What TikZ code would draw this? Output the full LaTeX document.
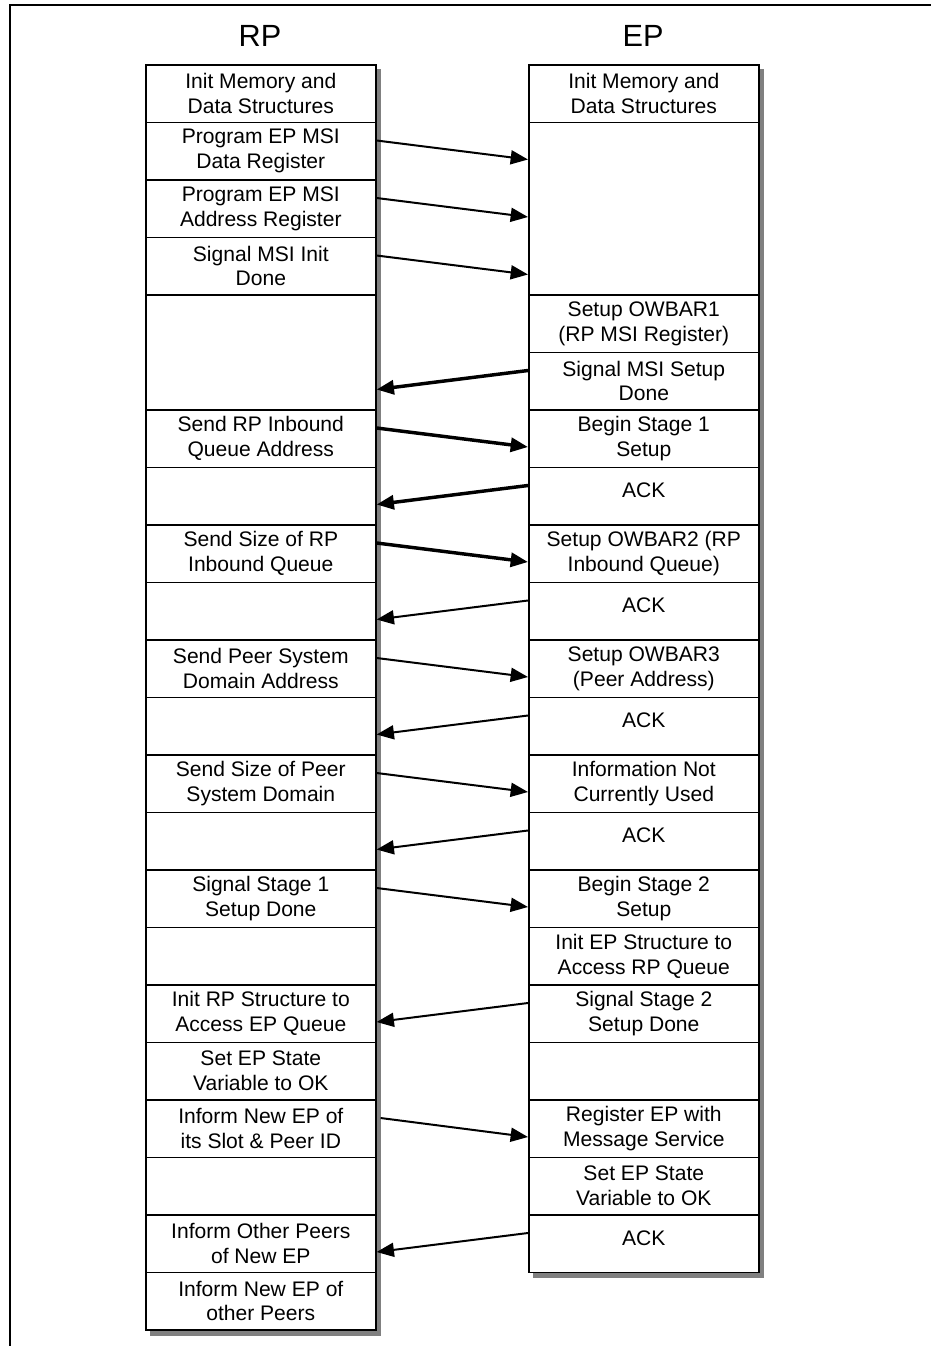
\documentclass[tikz,border=0pt]{standalone}
\usepackage{fontspec}
\setmainfont{Liberation Sans}
\usetikzlibrary{arrows.meta,calc}
% one row of a column: name, left x, row index, height in rows, text
\newcommand\mkrow[5]{%
  \node[cell, minimum height=#4*43.125pt] (#1) at (#2,{64+57.5*#3}) {#5};}
\newcommand\ack{\raisebox{4pt}[\height][\depth]{ACK}}
\begin{document}
\begin{tikzpicture}[x=0.75pt,y=-0.75pt,
  cell/.style={draw=black, fill=white, line width=1.2pt, minimum width=172.5pt,
    inner sep=0pt, align=center, anchor=north west,
    font=\fontsize{15.8}{18.5}\selectfont},
  shade/.style={fill=black!50, draw=none},
  title/.style={font=\fontsize{23}{27}\selectfont},
  msg/.style={line width=1.5pt, -{Triangle[length=13pt,width=10.5pt]}},
  msgbold/.style={msg, line width=2.6pt},
  frame/.style={line width=1.5pt}]
\useasboundingbox (0,0) rectangle (931,1346);
\draw[frame] (10,1360) -- (10,5) -- (945,5);

\node[title] (rptitle) at (260,36) {RP};
\node[title] (eptitle) at (643,36) {EP};

% drop shadows of the two columns
\fill[shade] (150,69) rectangle (381,1336);
\fill[shade] (533,69) rectangle (764,1278);

% RP column
\mkrow{r1}{145}{0}{1}{Init Memory and\\Data Structures}
\mkrow{r2}{145}{1}{1}{Program EP MSI\\Data Register}
\mkrow{r3}{145}{2}{1}{Program EP MSI\\Address Register}
\mkrow{r4}{145}{3}{1}{Signal MSI Init\\Done}
\mkrow{r5}{145}{4}{2}{}
\mkrow{r6}{145}{6}{1}{Send RP Inbound\\Queue Address}
\mkrow{r7}{145}{7}{1}{}
\mkrow{r8}{145}{8}{1}{Send Size of RP\\Inbound Queue}
\mkrow{r9}{145}{9}{1}{}
\mkrow{r10}{145}{10}{1}{Send Peer System\\Domain Address}
\mkrow{r11}{145}{11}{1}{}
\mkrow{r12}{145}{12}{1}{Send Size of Peer\\System Domain}
\mkrow{r13}{145}{13}{1}{}
\mkrow{r14}{145}{14}{1}{Signal Stage 1\\Setup Done}
\mkrow{r15}{145}{15}{1}{}
\mkrow{r16}{145}{16}{1}{Init RP Structure to\\Access EP Queue}
\mkrow{r17}{145}{17}{1}{Set EP State\\Variable to OK}
\mkrow{r18}{145}{18}{1}{Inform New EP of\\its Slot \& Peer ID}
\mkrow{r19}{145}{19}{1}{}
\mkrow{r20}{145}{20}{1}{Inform Other Peers\\of New EP}
\mkrow{r21}{145}{21}{1}{Inform New EP of\\other Peers}

% EP column
\mkrow{e1}{528}{0}{1}{Init Memory and\\Data Structures}
\mkrow{e2}{528}{1}{3}{}
\mkrow{e3}{528}{4}{1}{Setup OWBAR1\\(RP MSI Register)}
\mkrow{e4}{528}{5}{1}{Signal MSI Setup\\Done}
\mkrow{e5}{528}{6}{1}{Begin Stage 1\\Setup}
\mkrow{e6}{528}{7}{1}{\ack}
\mkrow{e7}{528}{8}{1}{Setup OWBAR2 (RP\\Inbound Queue)}
\mkrow{e8}{528}{9}{1}{\ack}
\mkrow{e9}{528}{10}{1}{Setup OWBAR3\\(Peer Address)}
\mkrow{e10}{528}{11}{1}{\ack}
\mkrow{e11}{528}{12}{1}{Information Not\\Currently Used}
\mkrow{e12}{528}{13}{1}{\ack}
\mkrow{e13}{528}{14}{1}{Begin Stage 2\\Setup}
\mkrow{e14}{528}{15}{1}{Init EP Structure to\\Access RP Queue}
\mkrow{e15}{528}{16}{1}{Signal Stage 2\\Setup Done}
\mkrow{e16}{528}{17}{1}{}
\mkrow{e17}{528}{18}{1}{Register EP with\\Message Service}
\mkrow{e18}{528}{19}{1}{Set EP State\\Variable to OK}
\mkrow{e19}{528}{20}{1}{\ack}

% messages RP -> EP
\draw[msg] ($(r2.north east)+(0,19)$) -- ($(e2.west |- r2.north)+(0,38)$);
\draw[msg] ($(r3.north east)+(0,19)$) -- ($(e2.west |- r3.north)+(0,38)$);
\draw[msg] ($(r4.north east)+(0,19)$) -- ($(e2.west |- r4.north)+(0,38)$);
\draw[msgbold] ($(r6.north east)+(0,19)$) -- ($(e5.west |- r6.north)+(0,38)$);
\draw[msgbold] ($(r8.north east)+(0,19)$) -- ($(e7.west |- r8.north)+(0,38)$);
\draw[msg] ($(r10.north east)+(0,19)$) -- ($(e9.west |- r10.north)+(0,38)$);
\draw[msg] ($(r12.north east)+(0,19)$) -- ($(e11.west |- r12.north)+(0,38)$);
\draw[msg] ($(r14.north east)+(0,19)$) -- ($(e13.west |- r14.north)+(0,38)$);
\draw[msg] ($(r18.north east)+(4,19)$) -- ($(e17.west |- r18.north)+(0,38)$);

% messages EP -> RP
\draw[msgbold] ($(e4.north west)+(0,19)$) -- ($(r5.east |- e4.north)+(0,38)$);
\draw[msgbold] ($(e6.north west)+(0,19)$) -- ($(r7.east |- e6.north)+(0,38)$);
\draw[msg] ($(e8.north west)+(0,19)$) -- ($(r9.east |- e8.north)+(0,38)$);
\draw[msg] ($(e10.north west)+(0,19)$) -- ($(r11.east |- e10.north)+(0,38)$);
\draw[msg] ($(e12.north west)+(0,19)$) -- ($(r13.east |- e12.north)+(0,38)$);
\draw[msg] ($(e15.north west)+(0,19)$) -- ($(r16.east |- e15.north)+(0,38)$);
\draw[msg] ($(e19.north west)+(0,19)$) -- ($(r20.east |- e19.north)+(0,38)$);
\end{tikzpicture}
\end{document}
